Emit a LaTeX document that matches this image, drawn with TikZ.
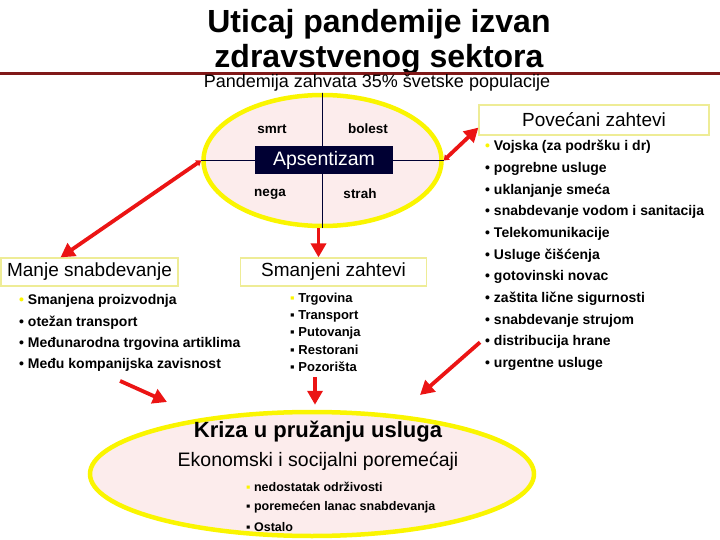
\documentclass[tikz,border=0pt]{standalone}
\usepackage{fontspec}
\setmainfont{Liberation Sans}
\usetikzlibrary{arrows.meta,shapes.geometric}
\definecolor{tamnocrvena}{RGB}{128,24,24}
\definecolor{svetloroze}{RGB}{252,236,236}
\definecolor{zuta}{RGB}{250,245,0}
\definecolor{zutiokvir}{RGB}{238,236,150}
\definecolor{teget}{RGB}{0,0,51}
\definecolor{crvena}{RGB}{235,20,20}
\begin{document}
\begin{tikzpicture}[x=1pt,y=-1pt,
 naslov/.style={anchor=base,inner sep=0pt,font=\fontsize{32}{35}\selectfont\bfseries},
 elipsa/.style={ellipse,draw=zuta,line width=4.5pt,fill=svetloroze,inner sep=0pt},
 okvir/.style={draw=zutiokvir,line width=1.2pt,fill=white,inner sep=0pt,font=\fontsize{19}{22}\selectfont},
 rec/.style={inner sep=0pt,font=\fontsize{13.5}{15}\selectfont\bfseries},
 stavka/.style={anchor=west,inner sep=0pt,font=\fontsize{14}{16}\selectfont\bfseries},
 strelica/.style={draw=crvena,line width=3.8pt,{Triangle[length=5pt,width=7pt]}-{Triangle[length=14pt,width=15pt]}}]
\useasboundingbox (0,0) rectangle (720,540);
\node[naslov] (naslov1) at (379,33) {Uticaj pandemije izvan};
\node[naslov] (naslov2) at (379,68) {zdravstvenog sektora};
\draw[tamnocrvena,line width=3pt] (0,74) -- (720,74);
\node[anchor=base,inner sep=0pt,font=\fontsize{18}{20}\selectfont] (podnaslov) at (377,88) {Pandemija zahvata 35\% švetske populacije};

% gornja elipsa
\node[elipsa,minimum width=238,minimum height=131] (apsel) at (322.5,160.5) {};
\draw[teget,line width=0.8pt] (apsel.north) -- (apsel.south) (apsel.west) -- (apsel.east);
\node[fill=teget,text=white,minimum width=138,minimum height=28,inner sep=0pt,font=\fontsize{19.5}{20}\selectfont] (apsent) at (324,160) {Apsentizam};
\node[rec] (smrt) at (272,129) {smrt};
\node[rec] (bolest) at (368,129) {bolest};
\node[rec] (nega) at (270,194) {nega};
\node[rec] (strah) at (360,194) {strah};

% povecani zahtevi
\node[okvir,minimum width=230,minimum height=30] (povecani) at (594,120) {Povećani zahtevi};
\foreach \t [count=\i] in {Vojska (za podršku i dr),pogrebne usluge,uklanjanje smeća,snabdevanje vodom i sanitacija,Telekomunikacije,Usluge čišćenja,gotovinski novac,zaštita lične sigurnosti,snabdevanje strujom,distribucija hrane,urgentne usluge}{
 \ifnum\i=1 \def\boja{zuta}\else\def\boja{black}\fi
 \node[stavka] (r\i) at ({485},{147+21.7*(\i-1)}) {\textcolor{\boja}{•}\ \t};
}
\draw[strelica] (apsel.east) -- ([yshift=8pt]povecani.south west);

% manje snabdevanje
\node[okvir,minimum width=177,minimum height=28] (manje) at (89.5,272) {Manje snabdevanje};
\foreach \t [count=\i] in {Smanjena proizvodnja,otežan transport,Međunarodna trgovina artiklima,Među kompanijska zavisnost}{
 \ifnum\i=1 \def\boja{zuta}\else\def\boja{black}\fi
 \node[stavka] (l\i) at ({19},{301+21.4*(\i-1)}) {\textcolor{\boja}{•}\ \t};
}
\draw[strelica] (apsel.west) -- ([xshift=-29pt]manje.north);

% smanjeni zahtevi
\node[okvir,minimum width=186,minimum height=28] (smanjeni) at (333.5,272) {Smanjeni zahtevi};
\foreach \t [count=\i] in {Trgovina,Transport,Putovanja,Restorani,Pozorišta}{
 \ifnum\i=1 \def\boja{zuta}\else\def\boja{black}\fi
 \node[stavka,font=\fontsize{13}{15}\selectfont\bfseries] (m\i) at ({290},{299+17*(\i-1)}) {\textcolor{\boja}{▪}\ \t};
}
\draw[strelica,-{Triangle[length=14pt,width=15pt]}] ([xshift=-4pt]apsel.south) -- ([xshift=-4pt]apsel.south |- smanjeni.north);

% kriza
\node[elipsa,minimum width=444,minimum height=124] (kriza) at (312,474) {};
\node[inner sep=0pt,font=\fontsize{22}{24}\selectfont\bfseries] (krizanaslov) at (318,432) {Kriza u pružanju usluga};
\node[inner sep=0pt,font=\fontsize{19.5}{22}\selectfont] (ekonomski) at (318,461) {Ekonomski i socijalni poremećaji};
\foreach \t [count=\i] in {nedostatak održivosti,poremećen lanac snabdevanja,Ostalo}{
 \ifnum\i=1 \def\boja{zuta}\else\def\boja{black}\fi
 \node[stavka,font=\fontsize{12.5}{14}\selectfont\bfseries] (k\i) at ({246},{487+20*(\i-1)}) {\textcolor{\boja}{▪}\ \t};
}
\coordinate (vrh1) at (167,402);
\coordinate (vrh3) at (420,395);
\draw[strelica,-{Triangle[length=14pt,width=15pt]}] ([yshift=-9pt]l4.south) -- (vrh1);
\draw[strelica,-{Triangle[length=14pt,width=15pt]}] ([xshift=3pt,yshift=-5pt]kriza.north |- m5.south) -- ([xshift=3pt,yshift=5pt]kriza.north);
\draw[strelica,-{Triangle[length=14pt,width=15pt]}] ([xshift=-5pt]r10.west) -- (vrh3);
\end{tikzpicture}
\end{document}
